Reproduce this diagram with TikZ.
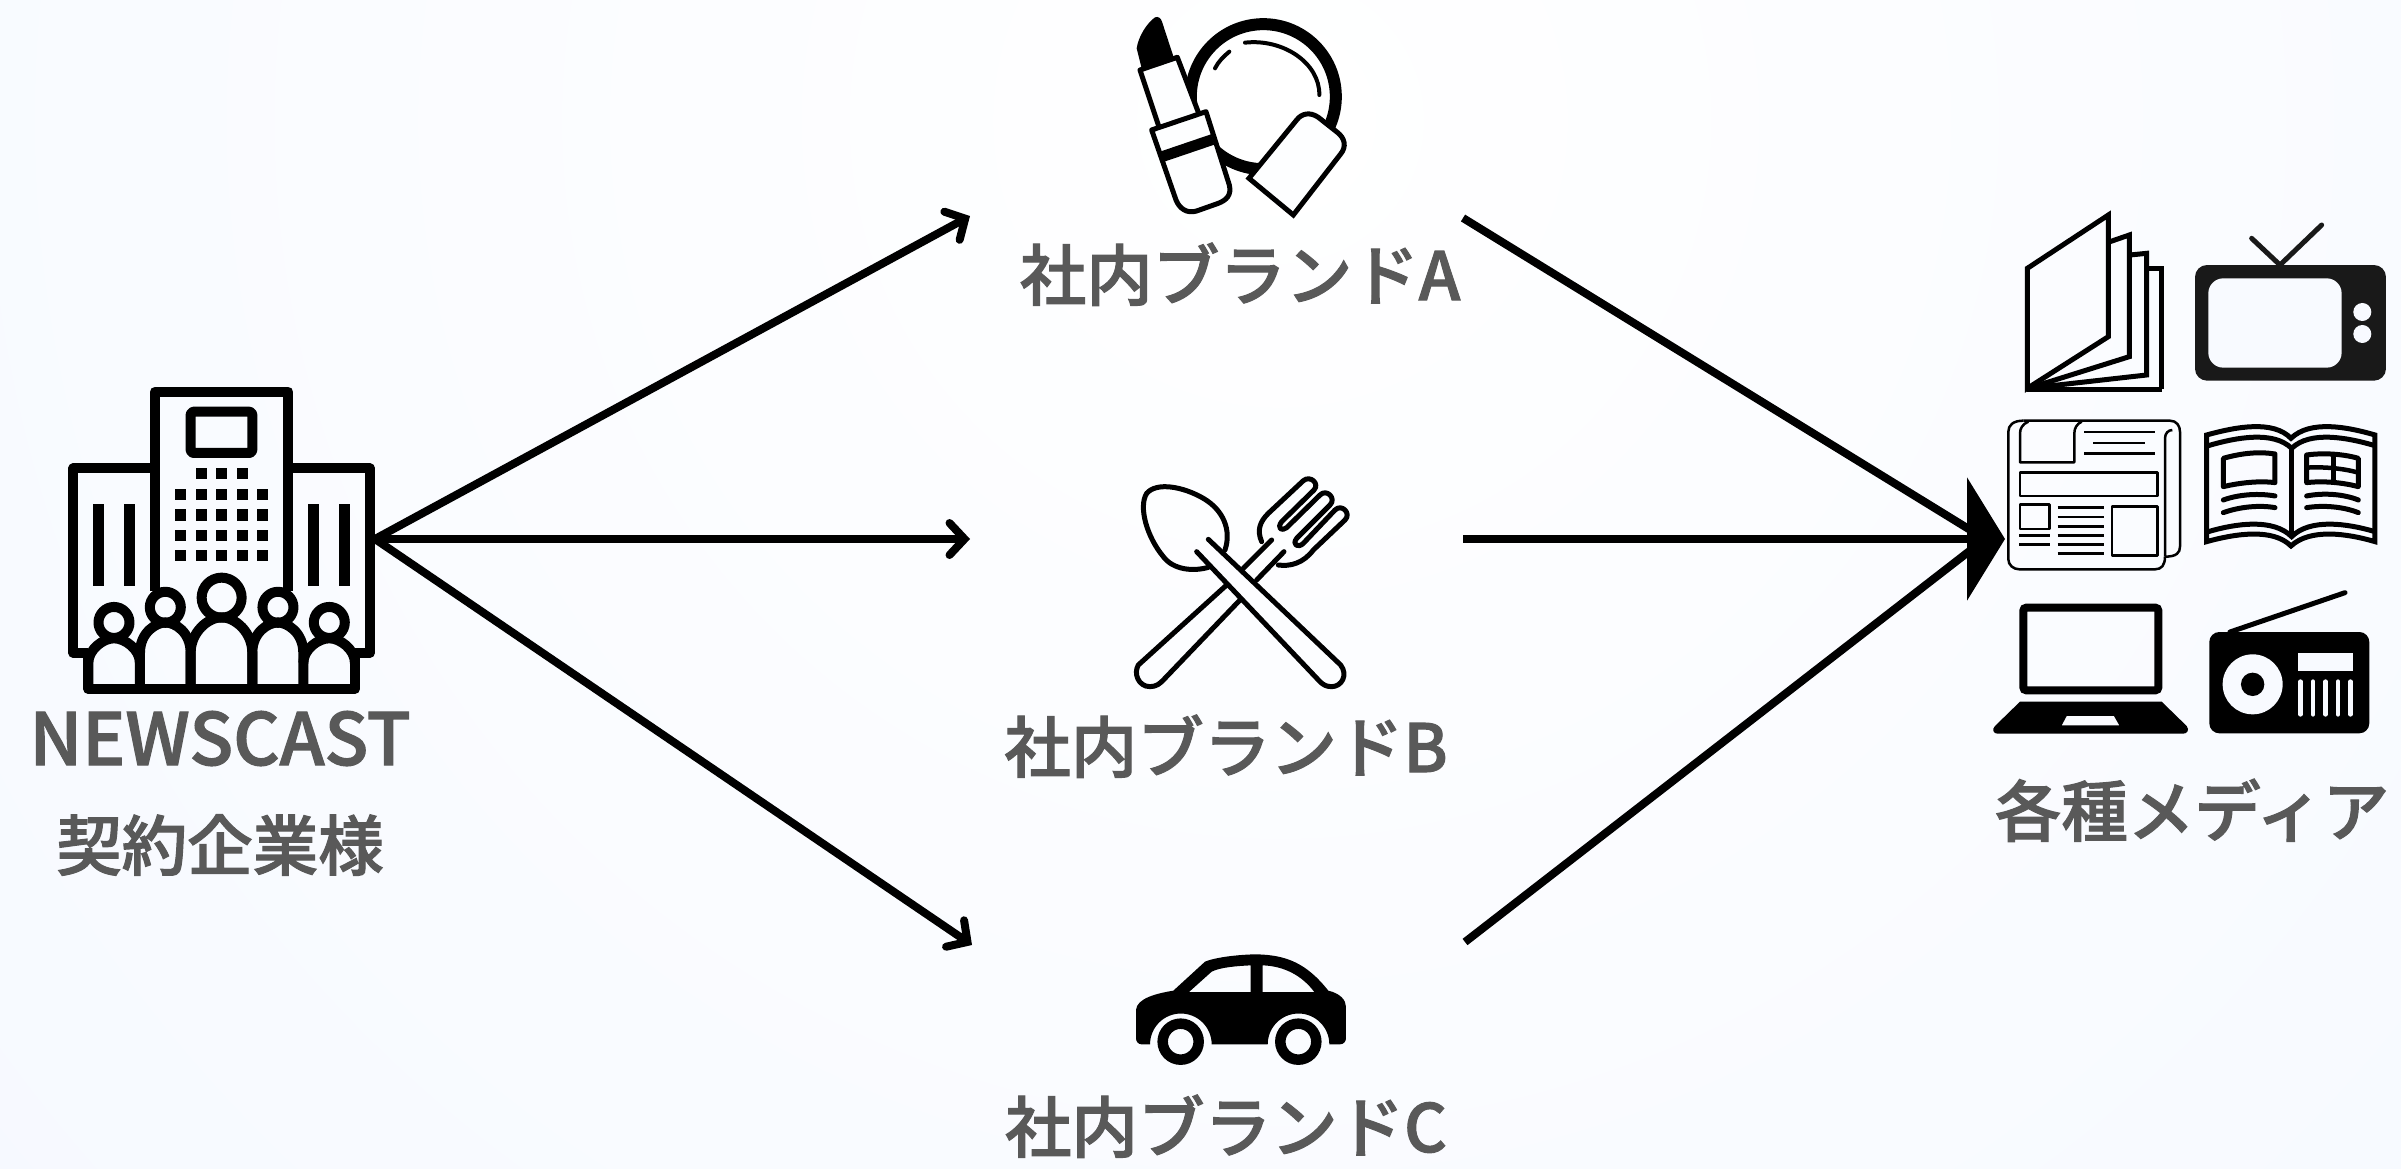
\documentclass[tikz,border=0pt]{standalone}
\usepackage{fontspec}
\usetikzlibrary{arrows.meta}
\newfontfamily\jpfont{Noto Sans CJK JP Medium}[FakeBold=1.6]
\definecolor{bgcol}{HTML}{F3F7FF}
\definecolor{cutcol}{HTML}{F8FAFF}
\definecolor{lidcol}{HTML}{FDFEFF}
\definecolor{txtcol}{HTML}{595959}
\tikzset{
  lab/.style={inner sep=0pt,anchor=base,text=txtcol,font=\jpfont\fontsize{66.5}{80}\selectfont},
  conn/.style={line width=8pt,draw=black},
  barb/.style={-{Straight Barb[length=15pt,width=32pt,line cap=round,line join=miter]}},
  bld/.style={line width=10pt,line join=round,draw=black},
  ico/.style={line width=5pt,line join=round,line cap=round,draw=black},
  thin/.style={line width=2.5pt,line join=round,draw=black},
}
\begin{document}
\begin{tikzpicture}[x=1pt,y=-1pt]
\path[use as bounding box] (0,0) rectangle (2401,1168);
\fill[bgcol] (0,0) rectangle (2401,1168);
\begin{scope}
\clip (0,0) rectangle (2401,1168);
\shade[inner color=white,outer color=bgcol] (1280,120) circle (2300pt);
\end{scope}

% ---- building ----
\begin{scope}[shift={(0,360)},x=.3333pt,y=-.3444pt]
\draw[bld] (465,670) -- (465,92) -- (865,92) -- (865,670);
\draw[bld] (465,315) -- (220,315) -- (220,850) -- (265,850);
\draw[bld] (865,315) -- (1110,315) -- (1110,850) -- (1065,850);
\draw[bld] (265,850) -- (265,955) -- (1065,955) -- (1065,850);
\draw[bld,rounded corners=3pt] (572,150) rectangle (757,270);
\foreach \x in {604,665,728} \fill (\x-16,330-16) rectangle (\x+16,330+16);
\foreach \y in {391,450,510,568} \foreach \x in {541,604,665,728,788} \fill (\x-16,\y-16) rectangle (\x+16,\y+16);
\foreach \x in {296,388,941,1033} \fill (\x-16,418) rectangle (\x+16,657);
\draw[bld] (342,762) circle (15.5pt);
\draw[bld] (988,762) circle (15.5pt);
\draw[bld] (496,718) circle (15.5pt);
\draw[bld] (834,718) circle (15.5pt);
\draw[bld] (665,690) circle (20pt);
\draw[bld] (265,955) -- (265,880) .. controls (265,840) and (310,808) .. (342,808) .. controls (375,808) and (420,840) .. (420,880) -- (420,955);
\draw[bld] (420,880) -- (420,850) .. controls (420,790) and (470,762) .. (496,762) .. controls (525,762) and (572,790) .. (572,850) -- (572,955);
\draw[bld] (572,955) -- (572,850) .. controls (572,790) and (625,747) .. (665,747) .. controls (705,747) and (757,790) .. (757,850) -- (757,955);
\draw[bld] (757,955) -- (757,850) .. controls (757,790) and (805,762) .. (834,762) .. controls (860,762) and (910,790) .. (910,850) -- (910,955);
\draw[bld] (910,880) .. controls (910,840) and (955,808) .. (988,808) .. controls (1020,808) and (1065,840) .. (1065,880);
\end{scope}

% ---- cosmetics ----
\begin{scope}[shift={(1100,0)},x=.3333pt,y=-.3333pt]
\draw[line width=12pt] (490,290) circle (72.5pt);
\draw[ico,line width=4pt] (435,128) .. controls (550,115) and (660,190) .. (658,285);
\draw[ico,line width=4pt] (345,205) .. controls (355,185) and (370,170) .. (388,155);
\fill[line join=round] (125,205) -- (110,145) .. controls (115,110) and (140,70) .. (165,52) .. controls (175,48) and (183,55) .. (186,65) -- (222,175) -- cycle;
\draw[ico,fill=lidcol] (120,210) -- (232,172) -- (300,350) -- (180,390) -- cycle;
\draw[ico,fill=lidcol] (155,390) -- (318,335) -- (388,555) .. controls (395,585) and (380,600) .. (355,610) -- (290,633) .. controls (260,642) and (238,625) .. (228,600) -- cycle;
\fill (180,455) -- (333,403) -- (343,434) -- (190,486) -- cycle;
\draw[ico,line join=miter,fill=lidcol] (447,535) -- (580,645) -- (722,462) .. controls (740,440) and (735,415) .. (712,397) -- (655,352) .. controls (630,335) and (605,340) .. (590,360) -- cycle;
\end{scope}

% ---- cutlery ----
\begin{scope}[shift={(1100,460)},x=.3333pt,y=-.3333pt]
\draw[ico] (325,238) -- (722,615) .. controls (745,645) and (725,680) .. (695,680) .. controls (680,680) and (670,675) .. (660,665) -- (290,275);
\draw[ico] (375,270) .. controls (395,210) and (370,150) .. (310,115) .. controls (250,80) and (170,65) .. (140,100) .. controls (115,140) and (140,230) .. (190,290) .. controls (220,330) and (280,335) .. (325,322);
\draw[ico] (515,240) -- (430,325);
\draw[ico] (552,275) -- (470,360);
\draw[ico] (380,375) -- (115,615) .. controls (100,640) and (115,680) .. (150,680) .. controls (170,680) and (180,670) .. (190,660) -- (420,420);
\draw[ico] (485,245) .. controls (470,210) and (480,185) .. (505,160) -- (610,62) .. controls (630,45) and (660,70) .. (642,90) -- (545,185) .. controls (530,205) and (545,215) .. (560,203) -- (660,105) .. controls (680,85) and (710,115) .. (690,135) -- (590,235) .. controls (575,255) and (595,265) .. (610,250) -- (705,150) .. controls (725,130) and (755,160) .. (735,180) -- (640,270) .. controls (610,310) and (570,320) .. (535,315);
\end{scope}

% ---- car ----
\begin{scope}[shift={(1110,940)},x=.3333pt,y=-.3333pt]
\fill[even odd rule] (120,313) -- (95,313) .. controls (85,313) and (78,305) .. (78,295) -- (78,210) .. controls (80,175) and (140,160) .. (190,152) -- (285,65) .. controls (320,50) and (400,43) .. (440,43) .. controls (530,45) and (590,70) .. (655,152) .. controls (690,160) and (708,180) .. (708,200) -- (708,295) .. controls (708,305) and (700,313) .. (690,313) -- (658,313) arc[start angle=0,end angle=180,radius=30.8pt] -- (305,313) arc[start angle=0,end angle=180,radius=30.8pt] -- cycle
 (237,156) -- (305,95) .. controls (330,82) and (380,78) .. (422,76) -- (422,156) -- cycle
 (458,76) .. controls (520,78) and (575,105) .. (613,156) -- (458,156) -- cycle;
\draw[line width=10.5pt] (212,305) circle (18pt);
\draw[line width=10.5pt] (565,305) circle (18pt);
\end{scope}

% ---- pages and tv ----
\begin{scope}[shift={(1990,200)},x=.3333pt,y=-.3333pt]
\draw[line width=5pt,line join=miter] (515,568) -- (515,205) -- (475,205);
\draw[line width=5pt,line join=miter] (515,568) -- (112,568);
\draw[line width=5pt,line join=miter] (420,165) -- (470,160) -- (470,525) -- (115,565);
\draw[line width=5pt,line join=miter] (360,125) -- (418,105) -- (418,470) -- (115,565);
\draw[line width=5pt,line join=miter] (112,205) -- (355,45) -- (355,410) -- (112,565) -- cycle;
\fill[black!90,rounded corners=12pt] (615,195) rectangle (1188,542);
\fill[cutcol,rounded corners=15pt] (655,235) rectangle (1055,503);
\fill[cutcol] (1117,336) circle (9pt) (1117,402) circle (9pt);
\draw[ico,black!90] (785,115) -- (870,195) -- (995,75);
\end{scope}

% ---- newspaper ----
\begin{scope}[shift={(1980,400)},x=.3333pt,y=-.3333pt]
\draw[thin] (130,62) -- (570,62) .. controls (590,62) and (600,78) .. (600,95) -- (600,440) .. controls (600,458) and (590,470) .. (555,470);
\draw[thin] (555,470) -- (555,115) .. controls (555,100) and (565,90) .. (577,90);
\draw[thin] (130,62) .. controls (100,62) and (85,75) .. (85,95) -- (85,478) .. controls (85,495) and (100,508) .. (118,508) -- (525,508) .. controls (545,508) and (555,495) .. (555,470);
\draw[thin] (145,65) .. controls (128,72) and (120,85) .. (120,100) -- (120,187) -- (283,187) -- (283,100) .. controls (283,85) and (290,72) .. (305,65);
\foreach \a/\b/\y in {312/525/96,340/495/129,312/525/160,118/210/407,118/210/434,233/372/323,233/372/351,233/372/379,233/372/406,233/372/434,233/372/461}
  \draw[thin] (\a,\y) -- (\b,\y);
\draw[thin] (120,218) rectangle (532,288);
\draw[thin] (120,313) rectangle (208,387);
\draw[thin] (396,320) rectangle (532,466);
\end{scope}

% ---- magazine ----
\begin{scope}[shift={(1990,200)},x=.3333pt,y=-.3333pt]
\draw[line width=5pt,line join=miter] (650,705) .. controls (740,680) and (850,660) .. (903,715) .. controls (960,660) and (1070,680) .. (1155,705) -- (1155,1025) .. controls (1070,1000) and (960,985) .. (903,1038) .. controls (850,985) and (740,1000) .. (650,1025) -- cycle;
\draw[line width=5pt] (655,737) .. controls (740,712) and (850,692) .. (905,745) .. controls (960,692) and (1070,712) .. (1155,737);
\draw[line width=5pt] (655,995) .. controls (740,970) and (850,955) .. (905,1010) .. controls (960,955) and (1070,970) .. (1155,995);
\draw[line width=5pt] (905,745) -- (905,1010);
\draw[line width=5pt,line join=round] (700,775) .. controls (760,758) and (810,755) .. (855,762) -- (855,848) .. controls (810,842) and (750,848) .. (700,860) -- cycle;
\draw[line width=5pt,line join=round] (950,765) .. controls (1000,758) and (1060,762) .. (1105,775) -- (1105,860) .. controls (1060,848) and (1000,842) .. (950,848) -- cycle;
\draw[line width=4.5pt] (1030,765) -- (1030,845);
\draw[line width=4.5pt] (950,803) .. controls (1000,800) and (1060,805) .. (1105,818);
\draw[ico] (700,900) .. controls (750,882) and (810,880) .. (855,888);
\draw[ico] (700,938) .. controls (750,920) and (810,915) .. (855,923);
\draw[ico] (950,888) .. controls (1000,878) and (1060,882) .. (1105,900);
\draw[ico] (950,923) .. controls (1000,915) and (1060,920) .. (1105,938);
\end{scope}

% ---- laptop and radio ----
\begin{scope}[shift={(1960,561)},x=.3333pt,y=-.3333pt]
\draw[line width=8pt,rounded corners=3pt] (190,140) rectangle (595,388);
\fill[even odd rule] (180,422) -- (605,422) -- (680,495) .. controls (690,508) and (680,518) .. (670,518) -- (112,518) .. controls (100,518) and (95,505) .. (105,495) -- cycle (320,465) -- (462,465) -- (478,493) -- (305,493) -- cycle;
\fill[rounded corners=10pt] (748,213) rectangle (1228,517);
\draw[ico] (810,213) -- (1155,95);
\fill[cutcol] (878,370) circle (30pt);
\fill (878,370) circle (11.7pt);
\fill[cutcol] (1014,277) rectangle (1180,330);
\foreach \x in {1021,1059,1097,1134,1171} \draw[line width=4.6pt,line cap=round,cutcol] (\x,362) -- (\x,460);
\end{scope}

% ---- labels ----
\node[lab] (company) at (220,765) {\fontsize{72}{80}\selectfont NEWSCAST};
\node[lab] (client) at (220,870) {\fontsize{65.5}{80}\selectfont 契約企業様};
\node[lab] (brandA) at (1240,300) {社内ブランドA};
\node[lab] (brandB) at (1226,772) {社内ブランドB};
\node[lab] (brandC) at (1226,1152) {社内ブランドC};
\node[lab] (media) at (2192,836) {各種メディア};

% ---- connectors ----
\coordinate (src) at (375,539);
\coordinate (inA) at (970,216);
\coordinate (inB) at (970,539);
\coordinate (inC) at (972,945);
\coordinate (outA) at (1463,218);
\coordinate (outB) at (1463,539);
\coordinate (outC) at (1465,942);
\coordinate (medmid) at (1985,539);
\coordinate (medtip) at (2005,539);
\draw[conn,barb] (src) -- (inA);
\draw[conn,barb] (src) -- (inB);
\draw[conn,barb] (src) -- (inC);
\draw[conn] (outA) -- (medmid);
\draw[conn] (outC) -- (medmid);
\draw[conn,-{Triangle[length=38pt,width=122pt]}] (outB) -- (medtip);
\end{tikzpicture}
\end{document}
